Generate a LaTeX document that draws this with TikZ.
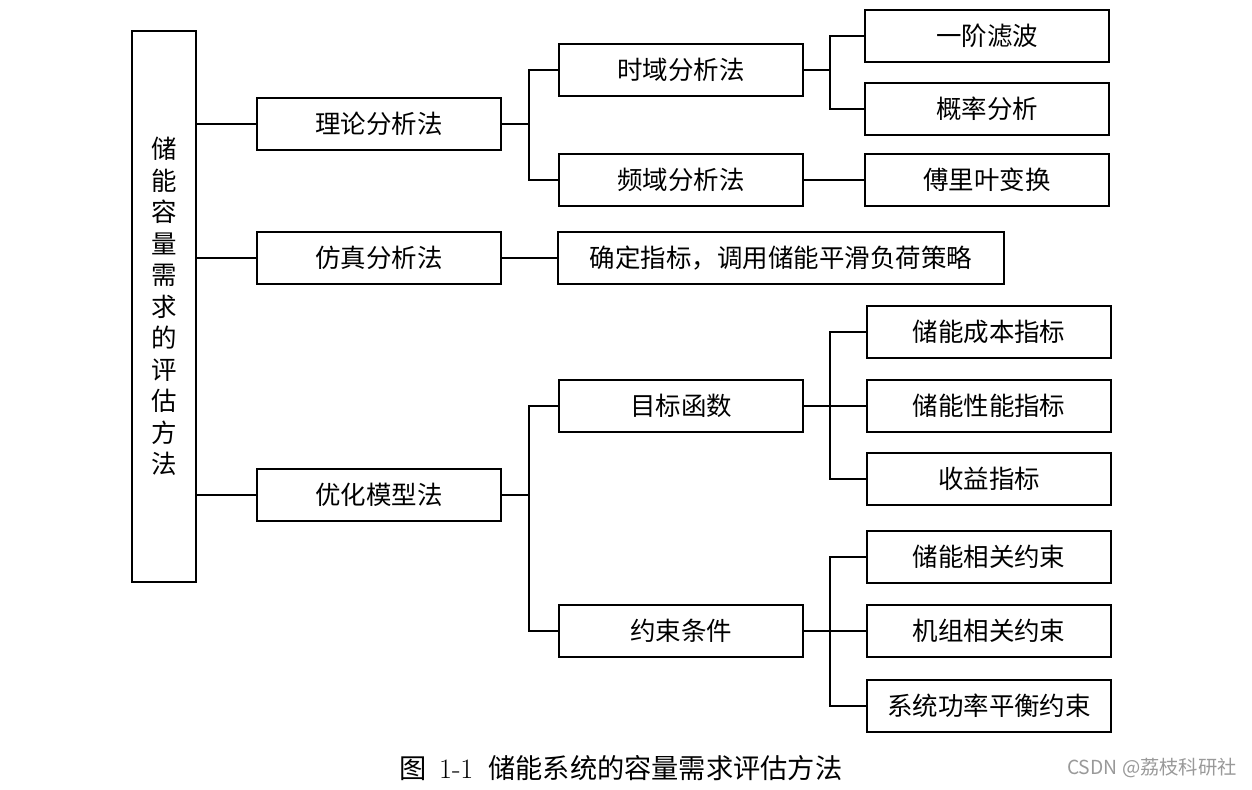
\documentclass[tikz,border=0pt]{standalone}
\usepackage{fontspec}
\newfontfamily\cjk{Noto Sans CJK SC}
\usetikzlibrary{positioning}

\begin{document}
\begin{tikzpicture}[x=0.02cm,y=-0.02cm,
  every node/.style={draw,minimum width=4.88cm,minimum height=1.04cm,inner sep=0pt,font=\cjk\fontsize{14.5}{17}\selectfont},
  every path/.style={line width=1.1pt},
]
\useasboundingbox (0,0) rectangle (1252,789);
% root
\node[minimum width=1.28cm,minimum height=11.02cm,align=center,font=\cjk\fontsize{14.5}{17.9}\selectfont] (root) at (164,306.5)
  {储\\能\\容\\量\\需\\求\\的\\评\\估\\方\\法};
% first level
\node(theory) at(379,124){理论分析法};
\node(sim) at(379,258){仿真分析法};
\node(opt) at(379,495){优化模型法};
% second level
\node(time) at(681,70){时域分析法};
\node(freq) at(681,180){频域分析法};
\node[minimum width=8.92cm](strat) at(781,258){确定指标，调用储能平滑负荷策略};
\node(obj) at(681,406){目标函数};
\node(cons) at(681,631){约束条件};
% third level
\node(filt) at(987,36){一阶滤波};
\node(prob) at(987,109){概率分析};
\node(fourier) at(987,180){傅里叶变换};
\node(cost) at(989,332){储能成本指标};
\node(perf) at(989,406){储能性能指标};
\node(profit) at(989,479){收益指标};
\node(esc) at(989,557){储能相关约束};
\node(unit) at(989,631){机组相关约束};
\node(bal) at(989,706){系统功率平衡约束};
% junctions
\coordinate(jt) at(529,124); \coordinate(jo) at(529,495);
\coordinate(jtm) at(830,70); \coordinate(jb) at(830,406);
\coordinate(jc) at(830,631);
\draw(root.east|-theory)--(theory.west);
\draw(root.east|-sim)--(sim.west);
\draw(root.east|-opt)--(opt.west);
\draw(theory.east)--(jt)|-(time.west); \draw(jt)|-(freq.west);
\draw(time.east)--(jtm)|-(filt.west); \draw(jtm)|-(prob.west);
\draw(freq)--(fourier); \draw(sim)--(strat);
\draw(opt.east)--(jo)|-(obj.west); \draw(jo)|-(cons.west);
\draw(obj.east)--(jb)|-(cost.west); \draw(jb)--(perf.west); \draw(jb)|-(profit.west);
\draw(cons.east)--(jc)|-(esc.west); \draw(jc)--(unit.west); \draw(jc)|-(bal.west);
% caption
\node[draw=none,minimum size=0pt,font=\cjk\fontsize{15.5}{18}\selectfont](cap) at(621,768){图\hspace{0.45em}{\rmfamily\fontsize{16}{18}\selectfont 1-1}\hspace{0.55em}储能系统的容量需求评估方法};
\node[draw=none,minimum size=0pt,text=black!40,font=\cjk\fontsize{11}{13}\selectfont](mark) at(1152,768){CSDN @荔枝科研社};
\end{tikzpicture}
\end{document}
